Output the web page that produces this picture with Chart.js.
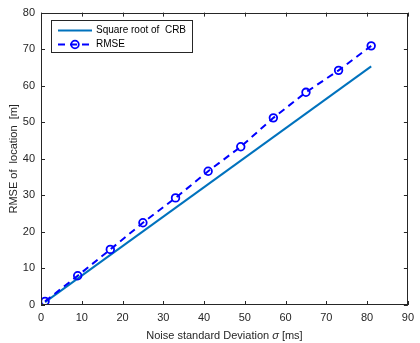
<!DOCTYPE html>
<html>
<head>
<meta charset="utf-8">
<script src="https://cdn.jsdelivr.net/npm/chart.js@4/dist/chart.umd.min.js"></script>
<style>
  body { margin: 0; background: #fff; }
  canvas { display: block; }
</style>
</head>
<body>
<canvas id="rmse-chart" width="420" height="343"></canvas>
<script>
/* values */
var sigma = [1, 9, 17, 25, 33, 41, 49, 57, 65, 73, 81];
var rmse = [1.0, 8.0, 15.2, 22.5, 29.3, 36.6, 43.3, 51.2, 58.2, 64.2, 70.9];
var crbSigma = [1, 81];
var crbValues = [0.8, 65.3];
var xTicks = [0, 10, 20, 30, 40, 50, 60, 70, 80, 90];
var yTicks = [0, 10, 20, 30, 40, 50, 60, 70, 80];
var seriesNames = ["Square root of  CRB", "RMSE"];

var FONT = "'Liberation Sans', Arial, Helvetica, sans-serif";
var TEXT = "#262626";
var CRB_COLOR = "#0072bd";
var RMSE_COLOR = "#0000ff";

function toPoints(xs, ys) {
  return xs.map(function (x, i) { return { x: x, y: ys[i] }; });
}

/* matlab style box, inner ticks, legend and x title */
var matlabBox = {
  id: "matlabBox",
  afterDraw: function (chart) {
    var ctx = chart.ctx;
    var a = chart.chartArea;
    var xs = chart.scales.x, ys = chart.scales.y;
    ctx.save();
    ctx.strokeStyle = TEXT;
    ctx.lineWidth = 1;
    ctx.strokeRect(Math.round(a.left) + 0.5, Math.round(a.top) + 0.5,
      Math.round(a.right - a.left) - 1, Math.round(a.bottom - a.top) - 1);
    ctx.beginPath();
    xTicks.forEach(function (v) {
      var px = Math.round(xs.getPixelForValue(v)) + 0.5;
      ctx.moveTo(px, a.bottom); ctx.lineTo(px, a.bottom - 4);
      ctx.moveTo(px, a.top); ctx.lineTo(px, a.top + 4);
    });
    yTicks.forEach(function (v) {
      var py = Math.round(ys.getPixelForValue(v)) + 0.5;
      ctx.moveTo(a.left, py); ctx.lineTo(a.left + 4, py);
      ctx.moveTo(a.right, py); ctx.lineTo(a.right - 4, py);
    });
    ctx.stroke();

    // legend
    var lx = Math.round(a.left) + 10, ly = Math.round(a.top) + 7;
    ctx.fillStyle = "#fff";
    ctx.fillRect(lx, ly, 142, 32);
    ctx.strokeStyle = TEXT;
    ctx.strokeRect(lx + 0.5, ly + 0.5, 141, 32);

    ctx.lineWidth = 2;
    ctx.strokeStyle = CRB_COLOR;
    ctx.beginPath();
    ctx.moveTo(lx + 7, ly + 10.5); ctx.lineTo(lx + 41, ly + 10.5);
    ctx.stroke();

    ctx.strokeStyle = RMSE_COLOR;
    ctx.setLineDash([7, 5]);
    ctx.beginPath();
    ctx.moveTo(lx + 7, ly + 24.5); ctx.lineTo(lx + 42, ly + 24.5);
    ctx.stroke();
    ctx.setLineDash([]);
    ctx.lineWidth = 1.8;
    ctx.beginPath();
    ctx.arc(lx + 24, ly + 24.5, 3.8, 0, Math.PI * 2);
    ctx.stroke();

    ctx.fillStyle = "#000";
    ctx.font = "10px " + FONT;
    ctx.textBaseline = "middle";
    ctx.textAlign = "left";
    ctx.fillText(seriesNames[0], lx + 45, ly + 10.5);
    ctx.fillText(seriesNames[1], lx + 45, ly + 24.5);

    // x title with italic sigma
    var parts = [["Noise standard Deviation ", ""], ["\u03c3", "italic "], [" [ms]", ""]];
    var total = 0;
    parts.forEach(function (p) {
      ctx.font = p[1] + "11px " + FONT;
      p.push(ctx.measureText(p[0]).width);
      total += p[2];
    });
    var tx = (a.left + a.right) / 2 - total / 2;
    ctx.fillStyle = TEXT;
    ctx.textBaseline = "middle";
    parts.forEach(function (p) {
      ctx.font = p[1] + "11px " + FONT;
      ctx.fillText(p[0], tx, 335.5);
      tx += p[2];
    });
    ctx.restore();
  }
};

var ctx = document.getElementById("rmse-chart");

var chart = new Chart(ctx, {
  type: "line",
  data: {
    datasets: [
      {
        label: seriesNames[1],
        data: toPoints(sigma, rmse),
        borderColor: RMSE_COLOR,
        borderWidth: 2,
        borderDash: [7, 5],
        pointRadius: 3.8,
        pointBorderWidth: 1.8,
        pointBorderColor: RMSE_COLOR,
        pointBackgroundColor: "rgba(0,0,0,0)",
        fill: false,
        tension: 0
      },
      {
        label: seriesNames[0],
        data: toPoints(crbSigma, crbValues),
        borderColor: CRB_COLOR,
        borderWidth: 2,
        pointRadius: 0,
        fill: false,
        tension: 0
      }
    ]
  },
  options: {
    responsive: false,
    animation: false,
    layout: { padding: { top: 12, right: 6, left: 0, bottom: 0 } },
    plugins: {
      legend: { display: false },
      tooltip: { enabled: false }
    },
    scales: {
      x: {
        type: "linear",
        min: 0,
        max: 90,
        afterBuildTicks: function (s) { s.ticks = xTicks.map(function (v) { return { value: v }; }); },
        afterFit: function (s) { s.height = 38; },
        grid: { display: false, drawTicks: false },
        border: { display: false },
        ticks: { color: TEXT, font: { family: FONT, size: 11 }, padding: 6, maxRotation: 0 }
      },
      y: {
        type: "linear",
        min: 0,
        max: 80,
        afterBuildTicks: function (s) { s.ticks = yTicks.map(function (v) { return { value: v }; }); },
        afterFit: function (s) { s.width = 41; },
        grid: { display: false, drawTicks: false },
        border: { display: false },
        ticks: { color: TEXT, font: { family: FONT, size: 11 }, padding: 6 },
        title: {
          display: true,
          text: "RMSE of  location  [m]",
          color: TEXT,
          font: { family: FONT, size: 11 },
          padding: { top: 7, bottom: 0 }
        }
      }
    }
  },
  plugins: [matlabBox]
});
</script>
</body>
</html>
